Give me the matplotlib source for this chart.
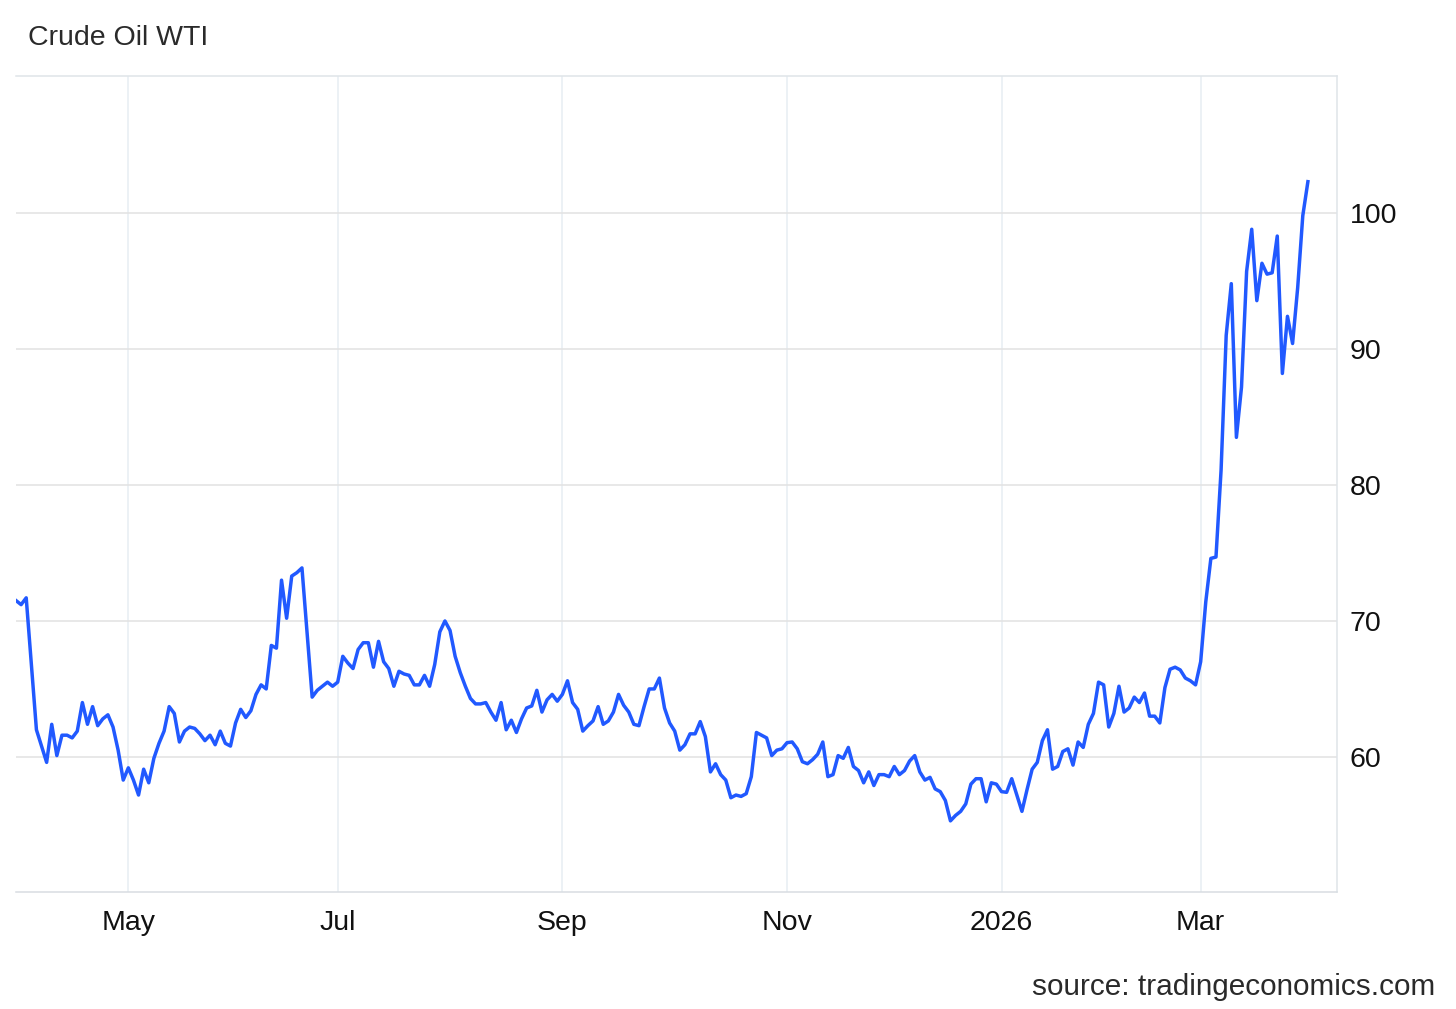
"""
Crude Oil WTI daily price, Apr 2025 - Mar 2026 (tradingeconomics style chart).
"""
import matplotlib
matplotlib.use('Agg')
import matplotlib.pyplot as plt
import numpy as np

# daily closes, grouped by the 2-month blocks between x ticks
apr_2025 = [71.5, 71.2, 71.7, 66.9, 62.0, 60.8, 59.6, 62.4, 60.1, 61.6, 61.6,
            61.4, 61.9, 64.0, 62.4, 63.7, 62.3, 62.8, 63.1, 62.2, 60.5, 58.3]
may_jun = [59.2, 58.3, 57.2, 59.1, 58.1, 59.9, 61.0, 61.9, 63.7, 63.2, 61.1,
           61.9, 62.2, 62.1, 61.7, 61.2, 61.6, 60.9, 61.9, 61.0, 60.8, 62.5,
           63.5, 62.9, 63.4, 64.6, 65.3, 65.0, 68.2, 68.0, 73.0, 70.2, 73.3,
           73.55, 73.9, 69.2, 64.4, 64.9, 65.2, 65.5, 65.2]
jul_aug = [65.5, 67.4, 66.9, 66.5, 67.9, 68.4, 68.4, 66.6, 68.5, 67.0, 66.5,
           65.2, 66.3, 66.1, 66.0, 65.3, 65.3, 66.0, 65.2, 66.8, 69.2, 70.0,
           69.3, 67.4, 66.2, 65.2, 64.3, 63.9, 63.9, 64.0, 63.3, 62.7, 64.0,
           62.0, 62.7, 61.8, 62.8, 63.6, 63.75, 64.9, 63.3, 64.2, 64.6, 64.1]
sep_oct = [64.6, 65.6, 64.0, 63.5, 61.9, 62.3, 62.65, 63.7, 62.4, 62.65, 63.3,
           64.6, 63.8, 63.3, 62.4, 62.3, 63.7, 65.0, 65.0, 65.8, 63.6, 62.5,
           61.9, 60.5, 60.9, 61.7, 61.7, 62.6, 61.5, 58.9, 59.5, 58.7, 58.3,
           57.0, 57.2, 57.1, 57.3, 58.55, 61.8, 61.6, 61.4, 60.1, 60.5, 60.6]
nov_dec = [61.05, 61.1, 60.6, 59.65, 59.5, 59.8, 60.2, 61.1, 58.55, 58.7, 60.1,
           59.9, 60.7, 59.3, 59.0, 58.1, 58.9, 57.9, 58.7, 58.7, 58.55, 59.3,
           58.7, 59.0, 59.7, 60.1, 58.9, 58.3, 58.5, 57.65, 57.45, 56.8, 55.3,
           55.7, 56.0, 56.55, 58.0, 58.4, 58.4, 56.7, 58.1, 58.0]
jan_feb_2026 = [57.45, 57.4, 58.4, 57.2, 56.0, 57.6, 59.1, 59.6, 61.2, 62.0,
                59.1, 59.3, 60.4, 60.6, 59.4, 61.1, 60.7, 62.4, 63.2, 65.5,
                65.3, 62.2, 63.2, 65.2, 63.3, 63.6, 64.4, 64.0, 64.7, 63.0,
                63.0, 62.5, 65.1, 66.45, 66.6, 66.4, 65.8, 65.6, 65.3]
mar_2026 = [67.0, 71.4, 74.6, 74.7, 81.1, 91.0, 94.8, 83.5, 87.2, 95.7, 98.8,
            93.55, 96.3, 95.5, 95.6, 98.3, 88.2, 92.4, 90.4, 94.5, 99.8, 102.3]

blocks = [apr_2025, may_jun, jul_aug, sep_oct, nov_dec, jan_feb_2026, mar_2026]
tick_labels = ['May', 'Jul', 'Sep', 'Nov', '2026', 'Mar']
y_ticks = [60, 70, 80, 90, 100]

LINE = '#2159ff'
TEXT = '#111111'

def main():
    plt.rcParams['font.family'] = ['Liberation Sans', 'DejaVu Sans']
    prices = np.concatenate(blocks)
    idx = np.arange(len(prices))
    # x tick at the first trading day of each block after the first
    starts = np.cumsum([len(b) for b in blocks])[:-1]

    fig = plt.figure(figsize=(14.56, 10.09), dpi=100)
    ax = fig.add_axes([16 / 1456, 117 / 1009, 1321 / 1456, 816 / 1009])

    ax.plot(idx, prices, color=LINE, lw=2.5, solid_joinstyle='round', zorder=3)

    ax.set_xlim(0, len(prices) + 4.7)
    ax.set_ylim(50.07, 110.07)

    ax.set_xticks(starts)
    ax.set_xticklabels(tick_labels)
    ax.set_yticks(y_ticks)
    ax.yaxis.tick_right()

    ax.grid(axis='y', color='#e2e2e2', lw=1.1)
    ax.grid(axis='x', color='#e7eef3', lw=1.1)
    ax.set_axisbelow(True)

    ax.spines['left'].set_visible(False)
    ax.spines['top'].set_color('#dfe4e8')
    ax.spines['right'].set_color('#dfe4e8')
    ax.spines['bottom'].set_color('#d8dde2')
    for s in ['top', 'right', 'bottom']:
        ax.spines[s].set_linewidth(1.1)

    ax.tick_params(axis='both', length=0, labelsize=20.5, colors=TEXT)
    ax.tick_params(axis='x', pad=13)
    ax.tick_params(axis='y', pad=9)

    fig.text(28 / 1456, 1 - 38 / 1009, 'Crude Oil WTI', fontsize=20.5,
             color='#2a2a2a', va='center', ha='left')
    fig.text(1435 / 1456, 1 - 987 / 1009, 'source: tradingeconomics.com',
             fontsize=21.4, color='#2a2a2a', va='center', ha='right')

    fig.savefig('out.png', dpi=100, facecolor='white')

if __name__ == '__main__':
    main()
